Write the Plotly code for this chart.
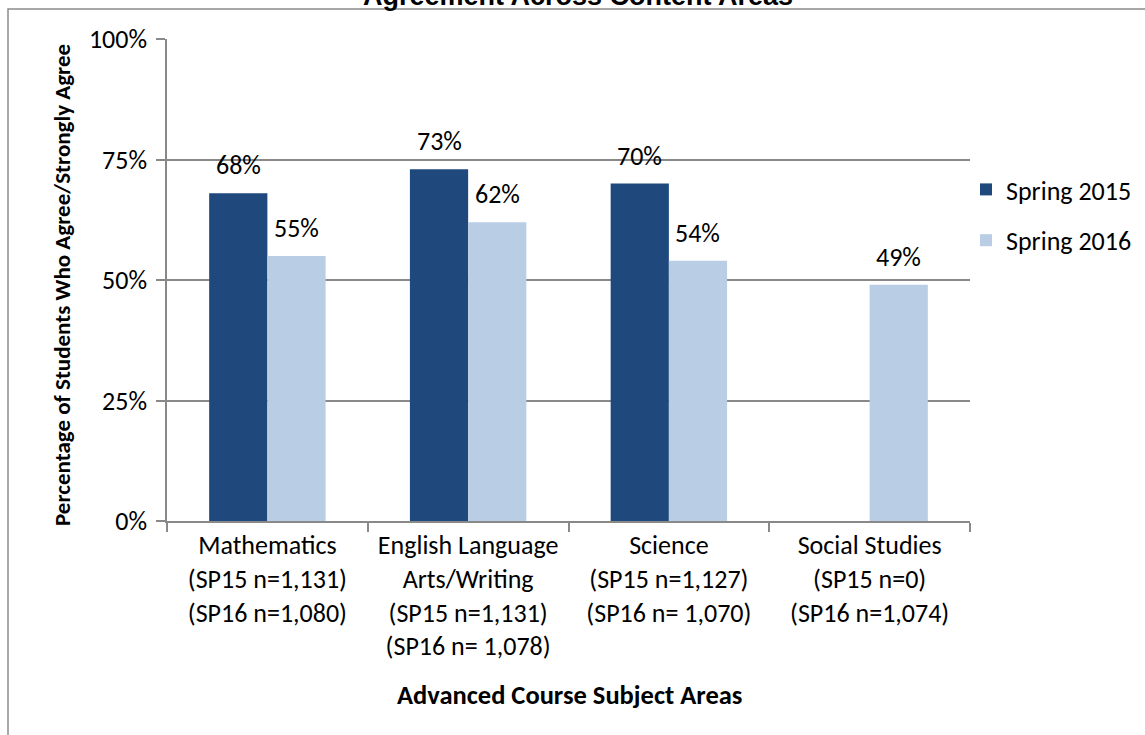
import plotly.graph_objects as go

categories = [
    "Mathematics<br>(SP15 n=1,131)<br>(SP16 n=1,080)",
    "English Language<br>Arts/Writing<br>(SP15 n=1,131)<br>(SP16 n= 1,078)",
    "Science<br>(SP15 n=1,127)<br>(SP16 n= 1,070)",
    "Social Studies<br>(SP15 n=0)<br>(SP16 n=1,074)",
]
series_names = ["Spring 2015", "Spring 2016"]
spring2015 = [68, 73, 70, None]
spring2016 = [55, 62, 54, 49]
colors = ["#1F497D", "#B9CDE5"]
y_ticks = [0, 25, 50, 75, 100]
y_tick_labels = ["0%", "25%", "50%", "75%", "100%"]
title_text = "Agreement Across Content Areas"
x_title = "Advanced Course Subject Areas"
y_title = "Percentage of Students Who Agree/Strongly Agree"

FONT = "Carlito, Calibri, Lato, sans-serif"

L, R, T, B = 167, 175, 39, 214
W, H = 1145, 735
pw, ph = W - L - R, H - T - B

fig = go.Figure()
for i, (name, vals) in enumerate(zip(series_names, [spring2015, spring2016])):
    fig.add_trace(go.Bar(
        x=categories, y=vals, name=name, marker=dict(color=colors[i], line=dict(width=0)),
        legendgroup=name, offsetgroup=str(i),
    ))

# data labels
annotations = []
for i, vals in enumerate([spring2015, spring2016]):
    shift = -29 if i == 0 else 29
    for c, v in zip(categories, vals):
        if v is None:
            continue
        annotations.append(dict(
            x=c, y=v, xref="x", yref="y", text=f"{v}%", showarrow=False,
            xshift=shift, yanchor="bottom", yshift=10,
            font=dict(family=FONT, size=26, color="#000000"),
        ))

# clipped title at top (the reference shows only its lower part)
annotations.append(dict(
    x=(578 - L) / pw, y=(H - B - 13) / ph, xref="paper", yref="paper",
    text=f"<b>{title_text}</b>", showarrow=False, xanchor="center", yanchor="bottom",
    font=dict(family="Liberation Sans, Arial", size=27, color="#000000"),
))
# axis titles
annotations.append(dict(
    x=(569 - L) / pw, y=(H - B - 695) / ph, xref="paper", yref="paper",
    text=f"<b>{x_title}</b>", showarrow=False, xanchor="center", yanchor="middle",
    font=dict(family=FONT, size=26.5, color="#000000"),
))
annotations.append(dict(
    x=(62 - L) / pw, y=(H - B - 285) / ph, xref="paper", yref="paper",
    text=f"<b>{y_title}</b>", showarrow=False, xanchor="center", yanchor="middle",
    textangle=-90,
    font=dict(family=FONT, size=23, color="#000000"),
))

shapes = [dict(
    type="rect", xref="paper", yref="paper",
    x0=(8 - L) / pw, x1=(W + 20 - L) / pw,
    y0=(H - B - (H + 20)) / ph, y1=(H - B - 9) / ph,
    line=dict(color="#8C8C8C", width=1.5), fillcolor="rgba(0,0,0,0)", layer="below",
)]

fig.update_layout(
    width=W, height=H,
    margin=dict(l=L, r=R, t=T, b=B, autoexpand=False),
    paper_bgcolor="white", plot_bgcolor="white",
    barmode="group", bargap=0.42, bargroupgap=0,
    font=dict(family=FONT, size=26, color="#000000"),
    showlegend=True,
    legend=dict(
        x=(966 - L) / pw, y=(H - B - 166) / ph, xanchor="left", yanchor="top",
        font=dict(family=FONT, size=26), tracegroupgap=14,
        bgcolor="rgba(0,0,0,0)", itemwidth=30,
    ),
    annotations=annotations,
    shapes=shapes,
    xaxis=dict(
        type="category", showgrid=False, showline=True, linecolor="#898989", linewidth=1.5,
        ticks="outside", ticklen=9, tickcolor="#898989", tickwidth=1.5, tickson="boundaries",
        tickfont=dict(family=FONT, size=26), fixedrange=True,
    ),
    yaxis=dict(
        range=[0, 100], tickvals=y_ticks, ticktext=y_tick_labels,
        showgrid=True, gridcolor="#898989", gridwidth=1.5,
        showline=True, linecolor="#898989", linewidth=1.5,
        ticks="outside", ticklen=9, tickcolor="#898989", tickwidth=1.5,
        tickfont=dict(family=FONT, size=26), ticklabelstandoff=4, zeroline=False,
    ),
)

fig.write_html(
    "out.html",
    config={"displayModeBar": False},
    post_script="document.body.style.margin='0';document.body.style.overflow='hidden';",
)
